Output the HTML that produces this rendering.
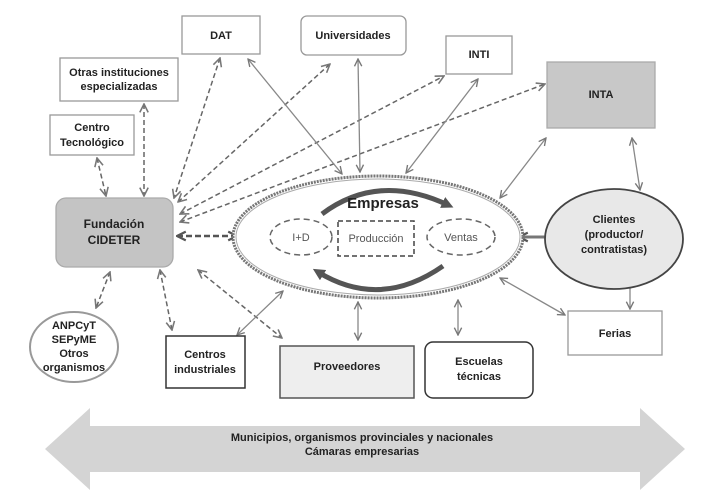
<!DOCTYPE html>
<html><head><meta charset="utf-8"><style>
html,body{margin:0;padding:0;background:#fff;}
svg{display:block;}
text{font-family:"Liberation Sans",Arial,sans-serif;font-weight:bold;fill:#222;}
</style></head><body>
<svg width="722" height="495" viewBox="0 0 722 495" xmlns="http://www.w3.org/2000/svg">
<defs>
<marker id="a" viewBox="0 0 10 10" refX="9" refY="5" markerWidth="7" markerHeight="7" orient="auto-start-reverse"><path d="M1,1 L9,5 L1,9" fill="none" stroke="#777" stroke-width="1.5"/></marker>
<marker id="b" viewBox="0 0 10 10" refX="9" refY="5" markerUnits="userSpaceOnUse" markerWidth="11" markerHeight="11" orient="auto-start-reverse"><path d="M1,1 L9,5 L1,9" fill="none" stroke="#555" stroke-width="2"/></marker>
<marker id="c" viewBox="0 0 10 10" refX="5" refY="5" markerUnits="userSpaceOnUse" markerWidth="12" markerHeight="12" orient="auto"><path d="M0,0 L10,5 L0,10 Z" fill="#555"/></marker>
</defs>

<polygon points="45,449 90,408 90,426 640,426 640,408 685,449 640,490 640,472 90,472 90,490" fill="#d4d4d4"/>
<text x="362" y="441" font-size="11" text-anchor="middle">Municipios, organismos provinciales y nacionales</text>
<text x="362" y="455" font-size="11" text-anchor="middle">Cámaras empresarias</text>

<g stroke="#666" stroke-width="1.5" stroke-dasharray="5,3" fill="none" marker-start="url(#a)" marker-end="url(#a)">
<line x1="97" y1="158" x2="106" y2="196"/>
<line x1="144" y1="104" x2="144" y2="196"/>
<line x1="220" y1="58" x2="174" y2="198"/>
<line x1="178" y1="202" x2="330" y2="64"/>
<line x1="180" y1="214" x2="444" y2="76"/>
<line x1="180" y1="222" x2="545" y2="84"/>
<line x1="110" y1="272" x2="96" y2="308"/>
<line x1="160" y1="270" x2="172" y2="330"/>
<line x1="198" y1="270" x2="282" y2="338"/>
</g>
<line x1="177" y1="236" x2="237" y2="236" stroke="#555" stroke-width="2.5" stroke-dasharray="6,3" marker-start="url(#b)" marker-end="url(#b)"/>

<g stroke="#888" stroke-width="1.3" fill="none" marker-start="url(#a)" marker-end="url(#a)">
<line x1="248" y1="59" x2="342" y2="174"/>
<line x1="358" y1="59" x2="360" y2="172"/>
<line x1="478" y1="79" x2="406" y2="173"/>
<line x1="546" y1="138" x2="500" y2="198"/>
<line x1="632" y1="138" x2="640" y2="190"/>
<line x1="630" y1="280" x2="630" y2="309"/>
<line x1="500" y1="278" x2="565" y2="315"/>
<line x1="237" y1="335" x2="283" y2="291"/>
<line x1="358" y1="302" x2="358" y2="340"/>
<line x1="458" y1="300" x2="458" y2="335"/>
</g>
<line x1="519" y1="237" x2="561" y2="237" stroke="#777" stroke-width="3" marker-start="url(#b)" marker-end="url(#b)"/>

<rect x="182" y="16" width="78" height="38" fill="#fff" stroke="#999" stroke-width="1.3"/>
<text x="221" y="39" font-size="11" text-anchor="middle">DAT</text>
<rect x="301" y="16" width="105" height="39" rx="6" fill="#fff" stroke="#999" stroke-width="1.3"/>
<text x="353" y="39" font-size="11" text-anchor="middle">Universidades</text>
<rect x="446" y="36" width="66" height="38" fill="#fff" stroke="#999" stroke-width="1.3"/>
<text x="479" y="58" font-size="11" text-anchor="middle">INTI</text>
<rect x="547" y="62" width="108" height="66" fill="#c8c8c8" stroke="#aaa" stroke-width="1.3"/>
<text x="601" y="98" font-size="11" text-anchor="middle">INTA</text>
<rect x="60" y="58" width="118" height="43" fill="#fff" stroke="#999" stroke-width="1.3"/>
<text x="119" y="76" font-size="11" text-anchor="middle">Otras instituciones</text>
<text x="119" y="90" font-size="11" text-anchor="middle">especializadas</text>
<rect x="50" y="115" width="84" height="40" fill="#fff" stroke="#999" stroke-width="1.3"/>
<text x="92" y="131" font-size="11" text-anchor="middle">Centro</text>
<text x="92" y="146" font-size="11" text-anchor="middle">Tecnológico</text>
<rect x="56" y="198" width="117" height="69" rx="10" fill="#c4c4c4" stroke="#aaa" stroke-width="1.3"/>
<text x="114" y="228" font-size="12" text-anchor="middle">Fundación</text>
<text x="114" y="244" font-size="12" text-anchor="middle">CIDETER</text>

<ellipse cx="74" cy="347" rx="44" ry="35" fill="#fff" stroke="#999" stroke-width="2"/>
<text x="74" y="329" font-size="11" text-anchor="middle">ANPCyT</text>
<text x="74" y="343" font-size="11" text-anchor="middle">SEPyME</text>
<text x="74" y="357" font-size="11" text-anchor="middle">Otros</text>
<text x="74" y="371" font-size="11" text-anchor="middle">organismos</text>

<rect x="166" y="336" width="79" height="52" fill="#fff" stroke="#333" stroke-width="1.5"/>
<text x="205" y="358" font-size="11" text-anchor="middle">Centros</text>
<text x="205" y="373" font-size="11" text-anchor="middle">industriales</text>
<rect x="280" y="346" width="134" height="52" fill="#eee" stroke="#555" stroke-width="1.5"/>
<text x="347" y="370" font-size="11" text-anchor="middle">Proveedores</text>
<rect x="425" y="342" width="108" height="56" rx="8" fill="#fff" stroke="#333" stroke-width="1.5"/>
<text x="479" y="365" font-size="11" text-anchor="middle">Escuelas</text>
<text x="479" y="380" font-size="11" text-anchor="middle">técnicas</text>
<rect x="568" y="311" width="94" height="44" fill="#fff" stroke="#999" stroke-width="1.3"/>
<text x="615" y="337" font-size="11" text-anchor="middle">Ferias</text>

<ellipse cx="614" cy="239" rx="69" ry="50" fill="#e8e8e8" stroke="#444" stroke-width="1.8"/>
<text x="614" y="223" font-size="11" text-anchor="middle">Clientes</text>
<text x="614" y="238" font-size="11" text-anchor="middle">(productor/</text>
<text x="614" y="253" font-size="11" text-anchor="middle">contratistas)</text>

<ellipse cx="378" cy="237" rx="145" ry="61" fill="#fff" stroke="#777" stroke-width="3" stroke-dasharray="2,1"/>
<ellipse cx="378" cy="237" rx="142" ry="58" fill="none" stroke="#aaa" stroke-width="1"/>
<path d="M322,214 Q378,172 448,205" fill="none" stroke="#555" stroke-width="5" marker-end="url(#c)"/>
<path d="M443,266 Q380,310 318,272" fill="none" stroke="#555" stroke-width="5" marker-end="url(#c)"/>
<text x="383" y="208" font-size="15" text-anchor="middle">Empresas</text>
<ellipse cx="301" cy="237" rx="31" ry="18" fill="none" stroke="#666" stroke-width="1.5" stroke-dasharray="6,4"/>
<text x="301" y="241" font-size="11" text-anchor="middle" style="font-weight:normal;fill:#555">I+D</text>
<rect x="338" y="221" width="76" height="35" fill="none" stroke="#444" stroke-width="1.5" stroke-dasharray="5,3"/>
<text x="376" y="242" font-size="11" text-anchor="middle" style="font-weight:normal;fill:#555">Producción</text>
<ellipse cx="461" cy="237" rx="34" ry="18" fill="none" stroke="#666" stroke-width="1.5" stroke-dasharray="6,4"/>
<text x="461" y="241" font-size="11" text-anchor="middle" style="font-weight:normal;fill:#555">Ventas</text>
</svg>
</body></html>
